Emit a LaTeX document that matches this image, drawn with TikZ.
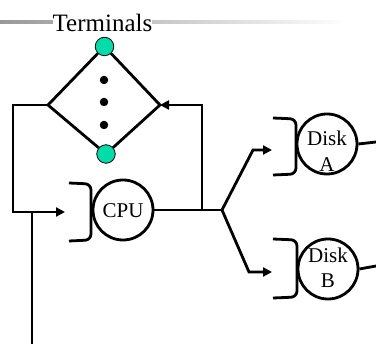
\documentclass[tikz,border=0pt]{standalone}
\usepackage{fontspec}
\setmainfont{Liberation Serif}
\usetikzlibrary{arrows.meta}
\definecolor{termgreen}{RGB}{0,221,170}
\tikzset{
  ln/.style={line width=2.8pt},
  arr/.style={ln,-{Triangle[length=9pt,width=9pt]}},
  server/.style={circle,draw,line width=2.8pt,minimum size=60pt,inner sep=0pt},
  term/.style={circle,draw,fill=termgreen,line width=0.8pt,minimum size=18.5pt,inner sep=0pt},
  dot/.style={circle,fill=black,minimum size=8.5pt,inner sep=0pt},
  queue/.style={line width=2.8pt,rounded corners=6pt},
  lbl/.style={font=\fontsize{21}{26}\selectfont,inner sep=0pt},
}
\begin{document}
\begin{tikzpicture}[x=1pt,y=-1pt]
\useasboundingbox (0,0) rectangle (376,344);
% header rule
\shade[left color=black!40,right color=white] (0,20.5) rectangle (348,23.5);
\node[font=\fontsize{25}{30}\selectfont,fill=white,inner sep=0pt] (title) at (102.5,22.5) {Terminals};
% terminals
\node[term] (t1) at (104.5,46.5) {};
\node[term] (t2) at (106,154) {};
\node[dot] (d1) at (104,80) {};
\node[dot] (d2) at (104,102) {};
\node[dot] (d3) at (104,125) {};
\coordinate (L) at (48,105);
\coordinate (R) at (160,105);
\draw[ln] (t1) -- (L) -- (t2);
\draw[ln] (t1) -- (R) -- (t2);
% CPU
\node[server] (cpu) at (123,210) {};
\node[lbl] (cputxt) at (123,211) {CPU};
\draw[queue] (69,183) -- (91,184) -- (91,240) -- (69,241);
\coordinate (c1) at (13,105);
\coordinate (cin) at (65,212);
\coordinate (j1) at (32,212);
\coordinate (bot) at (32,344);
\draw[arr] (L) -- (c1) |- (cin);
\draw[ln] (bot) -- (j1);
% CPU output
\coordinate (fork) at (222,210);
\coordinate (up) at (202,210);
\coordinate (upR) at (202,105);
\draw[ln] (cpu) -- (fork);
\draw[arr] (up) -- (upR) -- (R);
% Disk A
\node[server] (dA) at (327,144) {};
\node[lbl,anchor=base] (dAt1) at (327,146) {Disk};
\node[lbl,anchor=base] (dAt2) at (327,172) {A};
\draw[queue] (273,118) -- (296,119) -- (296,174) -- (273,175);
\coordinate (bA) at (253,150);
\coordinate (inA) at (272,150);
\draw[arr] (fork) -- (bA) -- (inA);
\coordinate (outA) at (376,142);
\draw[ln] (dA.east) -- (outA);
% Disk B
\node[server] (dB) at (328,269) {};
\node[lbl,anchor=base] (dBt1) at (328,263) {Disk};
\node[lbl,anchor=base] (dBt2) at (328,288) {B};
\draw[queue] (273,239) -- (297,240) -- (297,297) -- (273,298);
\coordinate (bB) at (249,272);
\coordinate (inB) at (272,272);
\draw[arr] (fork) -- (bB) -- (inB);
\coordinate (outB) at (376,266);
\draw[ln] (dB.east) -- (outB);
\end{tikzpicture}
\end{document}
